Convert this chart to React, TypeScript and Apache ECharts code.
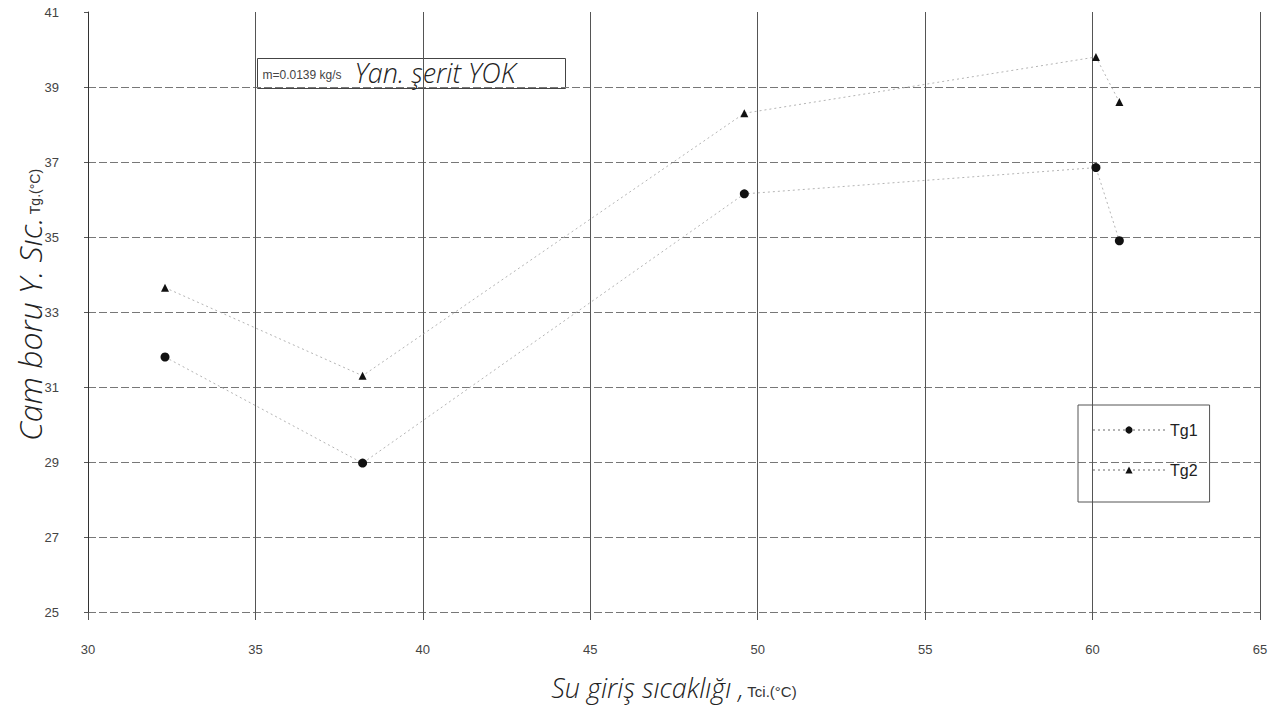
import React, { useEffect, useRef } from "react";
import * as echarts from "echarts";

const xValues = [32.3, 38.2, 49.6, 60.1, 60.8];
const tg1Values = [31.8, 28.97, 36.15, 36.85, 34.9];
const tg2Values = [33.65, 31.3, 38.3, 39.8, 38.6];
const seriesNames = ["Tg1", "Tg2"];
const yTitleHand = "Cam boru Y. Sıc.";
const yTitleUnit = "Tg.(°C)";
const xTitleHand = "Su giriş sıcaklığı ,";
const xTitleUnit = "Tci.(°C)";
const noteSmall = "m=0.0139 kg/s";
const noteHand = "Yan. şerit YOK";

const HAND = "'Open Sans', Lato, sans-serif";
const PRINT = "'Liberation Sans Narrow', 'Liberation Sans', Arial, sans-serif";

export default function App() {
  const ref = useRef<HTMLDivElement>(null);
  useEffect(() => {
    if (!ref.current) return;
    const chart = echarts.init(ref.current, null, { renderer: "svg" });
    const lineStyle = { color: "#b4b4b4", width: 1, type: [2, 3] as any };
    chart.setOption({
      animation: false,
      backgroundColor: "#fff",
      grid: { left: 88, right: 17, top: 12, bottom: 98, containLabel: false, outerBoundsMode: "none" },
      xAxis: {
        type: "value",
        min: 30,
        max: 65,
        interval: 5,
        name: `{h|${xTitleHand}} {s|${xTitleUnit}}`,
        nameLocation: "middle",
        nameGap: 57,
        nameTextStyle: {
          rich: {
            h: {
              fontFamily: HAND, fontStyle: "italic", fontWeight: 300, fontSize: 27,
              color: "#222", lineHeight: 32, verticalAlign: "bottom",
            },
            s: {
              fontFamily: PRINT, fontSize: 15, color: "#333",
              lineHeight: 32, verticalAlign: "bottom", padding: [0, 0, 2, 0],
            },
          },
        },
        axisLine: { show: false },
        axisTick: { show: true, length: 8, lineStyle: { color: "#555" } },
        axisLabel: { margin: 31, fontSize: 13, fontFamily: PRINT, color: "#444" },
        splitLine: { show: true, lineStyle: { color: "#555", width: 1 } },
      },
      yAxis: {
        type: "value",
        min: 25,
        max: 41,
        interval: 2,
        axisLine: { show: true, lineStyle: { color: "#333", width: 1 } },
        axisTick: { show: true, length: 4, lineStyle: { color: "#555" } },
        axisLabel: { margin: 29, fontSize: 13, fontFamily: PRINT, color: "#444" },
        splitLine: {
          show: true,
          showMaxLine: false,
          lineStyle: { color: "#777", width: 1, type: [8, 3] },
        },
      },
      legend: {
        orient: "vertical",
        left: 1078,
        top: 405,
        data: seriesNames,
        borderColor: "#555",
        borderWidth: 1,
        padding: [17, 12, 24, 14],
        itemGap: 24,
        itemWidth: 72,
        itemHeight: 9,
        textStyle: { fontSize: 16, fontFamily: "'Liberation Sans', Arial, sans-serif", color: "#222" },
      },
      graphic: [
        {
          type: "text",
          x: 28,
          y: 305,
          rotation: Math.PI / 2,
          style: {
            text: `{h|${yTitleHand}} {s|${yTitleUnit}}`,
            align: "center",
            verticalAlign: "middle",
            rich: {
              h: {
                fontFamily: HAND, fontStyle: "italic", fontWeight: 300, fontSize: 32,
                fill: "#222", lineHeight: 34, verticalAlign: "bottom",
              },
              s: {
                fontFamily: PRINT, fontSize: 14, fill: "#333",
                lineHeight: 34, verticalAlign: "bottom", padding: [0, 0, 3, 0],
              },
            },
          },
        },
        {
          type: "group",
          left: 257,
          top: 58,
          children: [
            {
              type: "rect",
              shape: { x: 0, y: 0, width: 308, height: 30 },
              style: { fill: "#fff", stroke: "#444", lineWidth: 1 },
            },
            {
              type: "text",
              x: 5,
              y: 16,
              style: {
                text: noteSmall,
                verticalAlign: "middle",
                fontFamily: PRINT,
                fontSize: 12,
                fill: "#444",
              },
            },
            {
              type: "text",
              x: 97,
              y: 14,
              style: {
                text: noteHand,
                verticalAlign: "middle",
                fontFamily: HAND,
                fontStyle: "italic",
                fontWeight: 300,
                fontSize: 27,
                fill: "#222",
              },
            },
          ],
        },
      ],
      series: [
        {
          name: seriesNames[0],
          type: "line",
          data: xValues.map((x, i) => [x, tg1Values[i]]),
          symbol: "circle",
          symbolSize: 9,
          itemStyle: { color: "#111" },
          lineStyle,
        },
        {
          name: seriesNames[1],
          type: "line",
          data: xValues.map((x, i) => [x, tg2Values[i]]),
          symbol: "triangle",
          symbolSize: 8,
          itemStyle: { color: "#111" },
          lineStyle,
        },
      ],
    });
    return () => chart.dispose();
  }, []);
  return (
    <div
      ref={ref}
      style={{ position: "fixed", left: 0, top: 0, width: 1277, height: 710, background: "#fff" }}
    />
  );
}
